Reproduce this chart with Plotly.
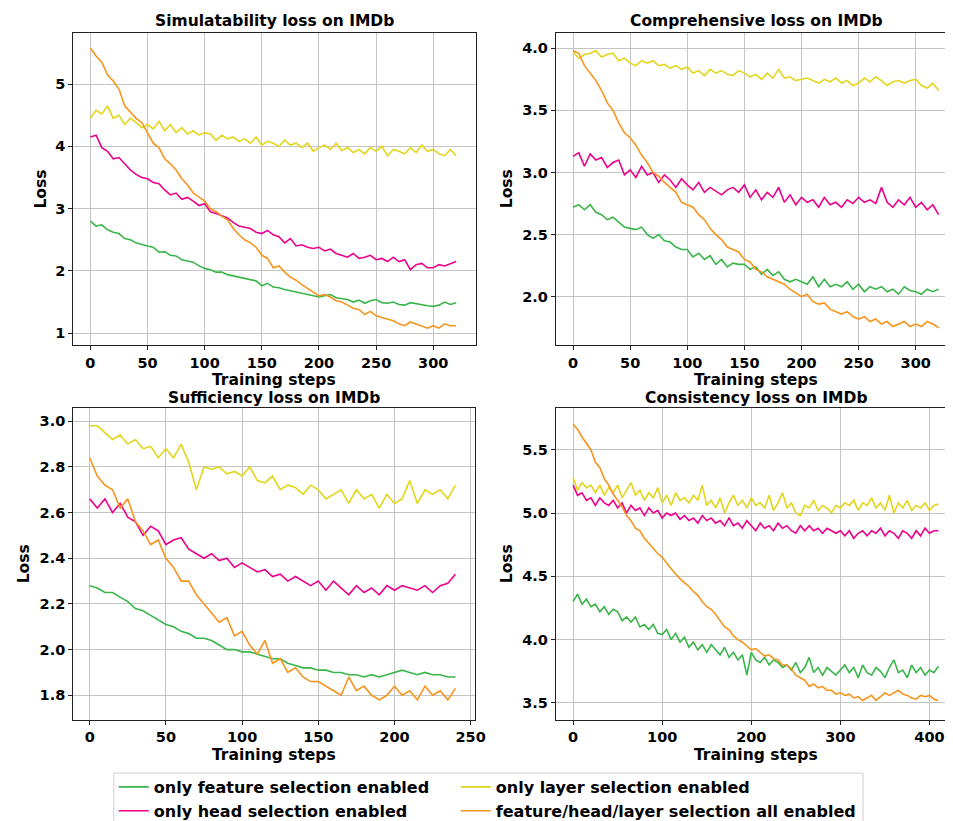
import plotly.graph_objects as go

series_names = ["only feature selection enabled", "only head selection enabled",
                "only layer selection enabled", "feature/head/layer selection all enabled"]
legend_ids = ["legend", "legend", "legend2", "legend2"]
colors = ["#3ab54a", "#ec008c", "#e3d51b", "#f7941d"]

panel_titles = ["Simulatability loss on IMDb", "Comprehensive loss on IMDb",
                "Sufficiency loss on IMDb", "Consistency loss on IMDb"]

# Simulatability (steps 0..320)
sim_steps = list(range(0, 321, 5))
sim_feature = [2.80, 2.72, 2.74, 2.66, 2.62, 2.60, 2.52, 2.50, 2.45, 2.42, 2.40, 2.38, 2.30, 2.31, 2.25, 2.24,
               2.18, 2.16, 2.14, 2.08, 2.04, 2.02, 1.98, 1.98, 1.94, 1.92, 1.90, 1.87, 1.86, 1.84, 1.76, 1.80,
               1.74, 1.73, 1.70, 1.68, 1.66, 1.65, 1.63, 1.61, 1.58, 1.60, 1.62, 1.57, 1.55, 1.54, 1.50, 1.53,
               1.48, 1.52, 1.54, 1.49, 1.48, 1.50, 1.46, 1.45, 1.49, 1.47, 1.45, 1.44, 1.43, 1.45, 1.50, 1.46, 1.49]
sim_head = [4.15, 4.18, 3.98, 3.92, 3.80, 3.82, 3.72, 3.62, 3.55, 3.50, 3.48, 3.42, 3.40, 3.30, 3.22, 3.25,
            3.15, 3.18, 3.12, 3.05, 3.08, 2.95, 2.92, 2.88, 2.85, 2.78, 2.72, 2.70, 2.68, 2.62, 2.60, 2.65,
            2.58, 2.55, 2.45, 2.52, 2.40, 2.42, 2.38, 2.36, 2.38, 2.32, 2.35, 2.28, 2.25, 2.22, 2.28, 2.20,
            2.22, 2.25, 2.18, 2.20, 2.15, 2.22, 2.15, 2.18, 2.02, 2.10, 2.12, 2.05, 2.05, 2.10, 2.08, 2.12, 2.15]
sim_layer = [4.45, 4.58, 4.52, 4.65, 4.45, 4.50, 4.35, 4.45, 4.38, 4.30, 4.35, 4.28, 4.40, 4.25, 4.35, 4.22,
             4.30, 4.20, 4.25, 4.18, 4.22, 4.20, 4.10, 4.18, 4.12, 4.15, 4.08, 4.12, 4.05, 4.15, 4.02, 4.08,
             4.05, 4.00, 4.10, 4.02, 4.05, 3.98, 4.05, 3.92, 3.98, 4.02, 3.95, 4.05, 3.93, 3.98, 3.90, 3.95,
             3.88, 3.98, 3.92, 4.00, 3.85, 3.95, 3.92, 3.88, 3.98, 3.90, 4.02, 3.92, 3.95, 3.88, 3.85, 3.95, 3.85]
sim_all = [5.58, 5.45, 5.35, 5.15, 5.05, 4.92, 4.65, 4.55, 4.45, 4.38, 4.22, 4.05, 3.98, 3.80, 3.72, 3.62,
           3.48, 3.38, 3.25, 3.18, 3.12, 3.00, 2.95, 2.88, 2.82, 2.68, 2.58, 2.50, 2.45, 2.38, 2.25, 2.20,
           2.05, 2.08, 1.98, 1.90, 1.85, 1.78, 1.72, 1.65, 1.60, 1.62, 1.58, 1.52, 1.50, 1.45, 1.40, 1.38,
           1.30, 1.35, 1.28, 1.25, 1.22, 1.20, 1.15, 1.12, 1.18, 1.15, 1.12, 1.08, 1.12, 1.08, 1.15, 1.12, 1.12]

# Comprehensive (steps 0..320)
com_steps = list(range(0, 321, 5))
com_feature = [2.72, 2.74, 2.70, 2.74, 2.68, 2.66, 2.62, 2.64, 2.60, 2.56, 2.55, 2.54, 2.56, 2.50, 2.47, 2.50,
               2.45, 2.44, 2.40, 2.38, 2.38, 2.32, 2.35, 2.30, 2.33, 2.26, 2.30, 2.24, 2.27, 2.26, 2.26, 2.22,
               2.24, 2.18, 2.22, 2.17, 2.20, 2.14, 2.12, 2.14, 2.12, 2.10, 2.16, 2.08, 2.14, 2.08, 2.10, 2.08,
               2.12, 2.06, 2.10, 2.04, 2.08, 2.06, 2.08, 2.04, 2.06, 2.02, 2.08, 2.05, 2.04, 2.02, 2.06, 2.04, 2.06]
com_head = [3.13, 3.16, 3.05, 3.15, 3.10, 3.12, 3.04, 3.08, 3.10, 2.98, 3.02, 2.96, 3.05, 2.98, 3.00, 2.92,
            2.98, 2.94, 2.88, 2.95, 2.90, 2.86, 2.92, 2.84, 2.88, 2.85, 2.82, 2.86, 2.88, 2.84, 2.90, 2.80,
            2.86, 2.78, 2.84, 2.80, 2.88, 2.76, 2.82, 2.74, 2.80, 2.76, 2.78, 2.72, 2.80, 2.74, 2.76, 2.72,
            2.78, 2.75, 2.80, 2.76, 2.78, 2.75, 2.88, 2.76, 2.72, 2.78, 2.74, 2.80, 2.72, 2.76, 2.70, 2.74, 2.66]
com_layer = [3.97, 3.92, 3.95, 3.96, 3.98, 3.93, 3.95, 3.96, 3.90, 3.92, 3.88, 3.86, 3.90, 3.88, 3.90, 3.86,
             3.87, 3.84, 3.86, 3.83, 3.85, 3.80, 3.82, 3.78, 3.83, 3.80, 3.82, 3.79, 3.78, 3.82, 3.80, 3.77,
             3.79, 3.75, 3.80, 3.76, 3.83, 3.76, 3.77, 3.74, 3.75, 3.76, 3.74, 3.72, 3.75, 3.73, 3.76, 3.72,
             3.74, 3.70, 3.72, 3.76, 3.73, 3.77, 3.74, 3.70, 3.73, 3.74, 3.72, 3.74, 3.75, 3.70, 3.68, 3.72, 3.66]
com_all = [3.98, 3.96, 3.86, 3.80, 3.74, 3.66, 3.56, 3.50, 3.40, 3.32, 3.28, 3.22, 3.14, 3.08, 3.00, 2.97,
           2.92, 2.88, 2.84, 2.76, 2.74, 2.72, 2.66, 2.62, 2.55, 2.50, 2.46, 2.40, 2.38, 2.36, 2.30, 2.28,
           2.22, 2.20, 2.16, 2.14, 2.12, 2.10, 2.06, 2.03, 2.00, 2.02, 1.96, 1.94, 1.95, 1.90, 1.88, 1.86,
           1.88, 1.84, 1.82, 1.84, 1.80, 1.82, 1.78, 1.80, 1.76, 1.78, 1.80, 1.76, 1.78, 1.76, 1.80, 1.78, 1.75]

# Sufficiency (steps 0..240)
suf_steps = list(range(0, 241, 5))
suf_feature = [2.28, 2.27, 2.25, 2.25, 2.23, 2.21, 2.18, 2.17, 2.15, 2.13, 2.11, 2.10, 2.08, 2.07, 2.05, 2.05,
               2.04, 2.02, 2.00, 2.00, 1.99, 1.99, 1.98, 1.97, 1.96, 1.96, 1.94, 1.93, 1.92, 1.92, 1.91, 1.91,
               1.90, 1.90, 1.89, 1.89, 1.88, 1.89, 1.88, 1.89, 1.90, 1.91, 1.90, 1.89, 1.90, 1.89, 1.89, 1.88, 1.88]
suf_head = [2.66, 2.62, 2.66, 2.60, 2.64, 2.58, 2.56, 2.50, 2.54, 2.52, 2.46, 2.48, 2.49, 2.44, 2.42, 2.40,
            2.42, 2.39, 2.40, 2.36, 2.38, 2.36, 2.34, 2.35, 2.32, 2.33, 2.30, 2.32, 2.30, 2.28, 2.30, 2.26,
            2.30, 2.27, 2.24, 2.28, 2.25, 2.27, 2.24, 2.28, 2.26, 2.28, 2.27, 2.26, 2.28, 2.25, 2.28, 2.29, 2.33]
suf_layer = [2.98, 2.98, 2.95, 2.92, 2.94, 2.90, 2.92, 2.88, 2.89, 2.84, 2.88, 2.84, 2.90, 2.82, 2.70, 2.80,
             2.79, 2.80, 2.77, 2.78, 2.76, 2.80, 2.74, 2.73, 2.76, 2.70, 2.72, 2.71, 2.68, 2.72, 2.70, 2.66,
             2.68, 2.70, 2.64, 2.70, 2.66, 2.68, 2.62, 2.68, 2.64, 2.66, 2.74, 2.64, 2.70, 2.68, 2.70, 2.66, 2.72]
suf_all = [2.84, 2.76, 2.72, 2.70, 2.62, 2.66, 2.56, 2.52, 2.46, 2.48, 2.40, 2.36, 2.30, 2.30, 2.24, 2.20,
           2.16, 2.12, 2.14, 2.06, 2.08, 2.02, 1.98, 2.04, 1.94, 1.96, 1.90, 1.92, 1.88, 1.86, 1.86, 1.84,
           1.82, 1.80, 1.88, 1.82, 1.84, 1.80, 1.78, 1.80, 1.84, 1.80, 1.82, 1.78, 1.84, 1.80, 1.82, 1.78, 1.83]

# Consistency (steps 0..410)
con_steps = list(range(0, 411, 5))
con_feature = [4.30, 4.36, 4.28, 4.32, 4.26, 4.28, 4.22, 4.26, 4.20, 4.24, 4.22, 4.15, 4.18, 4.14, 4.18, 4.10,
               4.12, 4.08, 4.12, 4.05, 4.04, 4.08, 4.00, 4.05, 3.98, 4.02, 3.94, 3.98, 3.92, 3.96, 3.90, 3.96,
               3.92, 3.88, 3.94, 3.86, 3.90, 3.84, 3.88, 3.72, 3.90, 3.84, 3.82, 3.86, 3.80, 3.84, 3.82, 3.78,
               3.80, 3.76, 3.82, 3.74, 3.78, 3.86, 3.74, 3.78, 3.72, 3.78, 3.75, 3.72, 3.76, 3.80, 3.74, 3.78,
               3.70, 3.80, 3.74, 3.72, 3.78, 3.75, 3.70, 3.78, 3.84, 3.74, 3.76, 3.70, 3.80, 3.74, 3.78, 3.72,
               3.76, 3.74, 3.79]
con_head = [5.22, 5.14, 5.16, 5.10, 5.12, 5.06, 5.12, 5.08, 5.06, 5.10, 5.04, 5.08, 5.00, 5.06, 5.02, 5.04,
            4.98, 5.04, 5.00, 5.02, 4.96, 5.00, 4.98, 5.00, 4.95, 4.98, 4.94, 4.96, 4.92, 4.98, 4.94, 4.96,
            4.92, 4.94, 4.90, 4.96, 4.90, 4.92, 4.88, 4.94, 4.90, 4.86, 4.92, 4.88, 4.90, 4.86, 4.92, 4.88,
            4.90, 4.86, 4.84, 4.90, 4.86, 4.90, 4.86, 4.88, 4.84, 4.88, 4.86, 4.84, 4.86, 4.82, 4.86, 4.80,
            4.84, 4.86, 4.82, 4.86, 4.84, 4.88, 4.82, 4.86, 4.84, 4.80, 4.86, 4.84, 4.80, 4.86, 4.82, 4.88,
            4.84, 4.86, 4.86]
con_layer = [5.28, 5.18, 5.24, 5.20, 5.22, 5.16, 5.22, 5.14, 5.20, 5.16, 5.22, 5.12, 5.18, 5.24, 5.14, 5.18,
             5.10, 5.16, 5.12, 5.20, 5.08, 5.14, 5.06, 5.16, 5.10, 5.12, 5.08, 5.14, 5.10, 5.22, 5.06, 5.10,
             5.04, 5.12, 5.00, 5.08, 5.14, 5.06, 5.10, 5.04, 5.12, 5.06, 5.08, 5.04, 5.14, 5.02, 5.08, 5.16,
             5.04, 5.08, 5.00, 4.98, 5.06, 5.04, 5.10, 5.02, 5.06, 5.04, 5.00, 5.06, 5.04, 5.08, 5.06, 5.10,
             5.02, 5.08, 5.06, 5.12, 5.04, 5.08, 5.02, 5.14, 5.00, 5.08, 5.04, 5.10, 5.02, 5.06, 5.04, 5.08,
             5.02, 5.06, 5.07]
con_all = [5.70, 5.66, 5.60, 5.55, 5.50, 5.40, 5.36, 5.27, 5.22, 5.15, 5.10, 5.05, 4.98, 4.94, 4.88, 4.86,
           4.80, 4.76, 4.72, 4.68, 4.65, 4.60, 4.56, 4.52, 4.48, 4.45, 4.42, 4.38, 4.35, 4.30, 4.26, 4.24,
           4.20, 4.15, 4.10, 4.08, 4.03, 4.00, 3.98, 3.95, 3.92, 3.93, 3.90, 3.87, 3.88, 3.85, 3.84, 3.80,
           3.80, 3.77, 3.72, 3.70, 3.68, 3.63, 3.65, 3.62, 3.63, 3.60, 3.60, 3.57, 3.58, 3.56, 3.57, 3.54,
           3.55, 3.52, 3.54, 3.56, 3.52, 3.55, 3.58, 3.56, 3.58, 3.60, 3.57, 3.56, 3.54, 3.53, 3.56, 3.55,
           3.56, 3.53, 3.52]

panels = [
    (sim_steps, [sim_feature, sim_head, sim_layer, sim_all]),
    (com_steps, [com_feature, com_head, com_layer, com_all]),
    (suf_steps, [suf_feature, suf_head, suf_layer, suf_all]),
    (con_steps, [con_feature, con_head, con_layer, con_all]),
]

x_ticks = [[0, 50, 100, 150, 200, 250, 300], [0, 50, 100, 150, 200, 250, 300],
           [0, 50, 100, 150, 200, 250], [0, 100, 200, 300, 400]]
y_ticks = [[1, 2, 3, 4, 5], [2.0, 2.5, 3.0, 3.5, 4.0],
           [1.8, 2.0, 2.2, 2.4, 2.6, 2.8, 3.0], [3.5, 4.0, 4.5, 5.0, 5.5]]
y_fmt = ["d", ".1f", ".1f", ".1f"]

# ---------------- layout geometry ----------------
W, H = 953, 821
x_ranges = [[-15, 337], [-15, 330], [-10.8, 253], [-19.3, 423]]
y_ranges = [[0.81, 5.82], [1.611, 4.123], [1.693, 3.058], [3.368, 5.829]]
x_domains = [[66 / W, 473 / W], [554.3 / W, 1.0], [66 / W, 472.7 / W], [554.3 / W, 1.0]]
y_domains = [[1 - 337 / H, 1 - 25 / H], [1 - 337 / H, 1 - 25 / H],
             [1 - 711.7 / H, 1 - 400 / H], [1 - 711.7 / H, 1 - 400 / H]]

FONT = "DejaVu Sans"
fig = go.Figure()

for p, (steps, ys) in enumerate(panels):
    xa = "x" if p == 0 else f"x{p + 1}"
    ya = "y" if p == 0 else f"y{p + 1}"
    for s, vals in enumerate(ys):
        fig.add_trace(go.Scatter(
            x=steps, y=vals, mode="lines", name=series_names[s],
            line=dict(color=colors[s], width=1.6),
            xaxis=xa, yaxis=ya, showlegend=(p == 0), legendgroup=series_names[s],
            legend=legend_ids[s],
        ))

axis_common = dict(showgrid=True, gridcolor="#c4c4c4", gridwidth=1, showline=True, linecolor="#222222",
                   linewidth=1.2, ticks="outside", ticklen=4, tickwidth=1.2, tickcolor="#222222",
                   zeroline=False, tickfont=dict(family=FONT, size=14.5, color="black", weight="bold"))

for p in range(4):
    xk = "xaxis" if p == 0 else f"xaxis{p + 1}"
    yk = "yaxis" if p == 0 else f"yaxis{p + 1}"
    ya = "y" if p == 0 else f"y{p + 1}"
    xa = "x" if p == 0 else f"x{p + 1}"
    fig.layout[xk] = dict(axis_common, domain=x_domains[p], range=x_ranges[p], anchor=ya,
                          tickvals=x_ticks[p], mirror=True)
    fig.layout[yk] = dict(axis_common, domain=y_domains[p], range=y_ranges[p], anchor=xa,
                          tickvals=y_ticks[p], tickformat=y_fmt[p], mirror=(p % 2 == 0))

annotations = []
title_pos = [(269.5, 13), (757, 13), (269.5, 389.5), (757, 389.5)]
for p in range(4):
    cx, cy = title_pos[p]
    annotations.append(dict(text=f"<b>{panel_titles[p]}</b>", x=cx / W, y=1 - cy / H, xref="paper", yref="paper",
                            showarrow=False, xanchor="center", yanchor="middle", borderpad=0,
                            font=dict(family=FONT, size=15.5, color="black")))
xlabel_pos = [(269.5, 372), (757, 372), (269.5, 746.5), (757, 746.5)]
for cx, cy in xlabel_pos:
    annotations.append(dict(text="<b>Training steps</b>", x=cx / W, y=1 - cy / H, xref="paper", yref="paper",
                            showarrow=False, xanchor="center", yanchor="middle", borderpad=0,
                            font=dict(family=FONT, size=15.5, color="black")))
ylabel_pos = [(33, 181), (505, 181), (16.5, 556), (505, 556)]
for cx, cy in ylabel_pos:
    annotations.append(dict(text="<b>Loss</b>", x=cx / W, y=1 - cy / H, xref="paper", yref="paper",
                            showarrow=False, xanchor="center", yanchor="middle", textangle=-90,
                            font=dict(family=FONT, size=15.5, color="black")))

legend_style = dict(orientation="v", xanchor="left", yanchor="top", bgcolor="rgba(0,0,0,0)",
                    borderwidth=0, itemwidth=30, tracegroupgap=0,
                    font=dict(family=FONT, size=16, color="black", weight="bold"))

fig.update_layout(
    width=W, height=H, margin=dict(l=0, r=0, t=0, b=0),
    paper_bgcolor="white", plot_bgcolor="white",
    annotations=annotations,
    legend=dict(legend_style, x=107 / W, y=1 - 762 / H),
    legend2=dict(legend_style, x=453 / W, y=1 - 762 / H),
    shapes=[dict(type="rect", xref="paper", yref="paper", x0=107 / W, x1=865 / W,
                 y0=1 - 820 / H, y1=1 - 765 / H, line=dict(color="#d0d0d0", width=1),
                 fillcolor="rgba(255,255,255,0)", layer="below")],
)

fig.write_html("out.html")
